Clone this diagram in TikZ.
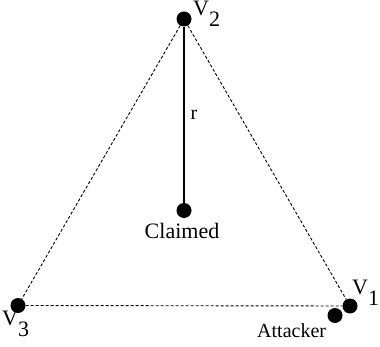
\documentclass[tikz,border=0pt]{standalone}
\usepackage{fontspec}
\setmainfont{Liberation Serif}
\usetikzlibrary{positioning}
\newcommand{\vlab}[1]{V\raisebox{-11pt}{#1}}

\begin{document}
\begin{tikzpicture}[x=1pt, y=1pt,
  dot/.style={circle, fill=black, inner sep=0pt, minimum size=15pt},
  lbl/.style={font=\fontsize{20}{24}\selectfont, inner sep=0pt},
  vname/.style={lbl, font=\fontsize{22}{26}\selectfont, anchor=base west},
  side/.style={dash pattern=on 3pt off 2pt, line width=0.9pt},
  radius/.style={line width=1.2pt}
]
\useasboundingbox (0,0) rectangle (380,346);
% points
\node[dot] (v2) at (184,327) {};
\node[dot] (claimed) at (184,135.5) {};
\node[dot] (v3) at (18,40.5) {};
\node[dot] (attacker) at (335,30.5) {};
\node[dot] (v1) at (350,40) {};
% labels
\node[vname] (v2lab) at (193,330) {\vlab{2}};
\node[vname] (v1lab) at (352,52) {\vlab{1}};
\node[vname] (v3lab) at (2,21) {\vlab{3}};
\node[lbl, anchor=base west] (attlab) at (257,9) {Attacker};
\node[lbl, font=\fontsize{22}{26}\selectfont, anchor=base] (clab) at (182,108) {Claimed};
% triangle
\draw[side] (v2) -- (v3);
\draw[side] (v2) -- (v1);
\draw[side] (v3) -- (v1);
% distance
\draw[radius] (v2) -- node[lbl, right=6pt] (rlab) {r} (claimed);
\end{tikzpicture}
\end{document}
